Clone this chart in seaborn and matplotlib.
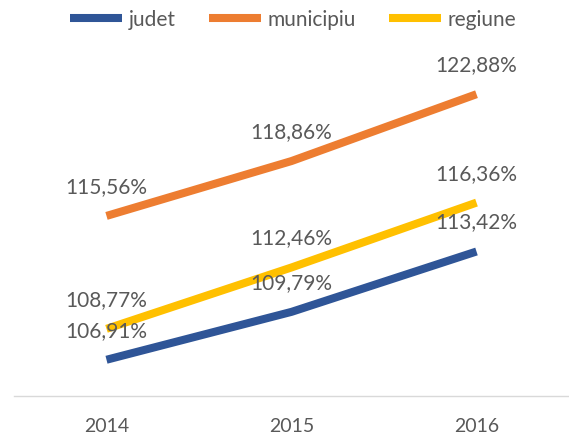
import matplotlib
matplotlib.use("Agg")
import matplotlib.pyplot as plt
import pandas as pd
import seaborn as sns

# data
years = [2014, 2015, 2016]
judet = [106.91, 109.79, 113.42]
municipiu = [115.56, 118.86, 122.88]
regiune = [108.77, 112.46, 116.36]

series = {"judet": judet, "municipiu": municipiu, "regiune": regiune}
colors = {"judet": "#2F5597", "municipiu": "#ED7D31", "regiune": "#FFC000"}

df = pd.DataFrame([
    {"an": y, "serie": name, "valoare": v}
    for name, vals in series.items()
    for y, v in zip(years, vals)
])

sns.set_theme(style="white")
plt.rcParams["font.family"] = ["Lato", "DejaVu Sans"]
text_color = "#595959"

fig = plt.figure(figsize=(5.69, 4.39), dpi=100)
ax = fig.add_axes([14 / 569, 1 - 397 / 439, 1 - 14 / 569, (397 - 40) / 439])

sns.lineplot(data=df, x="an", y="valoare", hue="serie", palette=colors,
             linewidth=5.8, ax=ax, legend=True)
for line in ax.get_lines():
    line.set_solid_capstyle("butt")

# value labels above each point
for name, vals in series.items():
    for y, v in zip(years, vals):
        label = f"{v:.2f}%".replace(".", ",")
        ax.annotate(label, (y, v), xytext=(0, 30), textcoords="offset pixels",
                    ha="center", va="center", fontsize=15, color=text_color)

ax.set_xlim(2013.5, 2016.5)
ax.set_ylim(104.73, 126.2)
ax.set_xticks(years)
ax.set_xticklabels([str(y) for y in years], fontsize=14, color=text_color)
ax.tick_params(axis="x", length=0, pad=15)
ax.set_yticks([])
ax.set_xlabel("")
ax.set_ylabel("")
for side in ["left", "right", "top"]:
    ax.spines[side].set_visible(False)
ax.spines["bottom"].set_color("#D9D9D9")
ax.spines["bottom"].set_linewidth(1)

handles, labels = ax.get_legend_handles_labels()
for h in handles:
    h.set_solid_capstyle("butt")
ax.legend(handles, labels, loc="upper center", bbox_to_anchor=(0.515, 1.01),
          bbox_transform=fig.transFigure, ncol=3, frameon=False,
          handlelength=2.5, handletextpad=0.3, columnspacing=1.6,
          fontsize=15, labelcolor=text_color, borderaxespad=0.3)

fig.savefig("out.png", dpi=100)
